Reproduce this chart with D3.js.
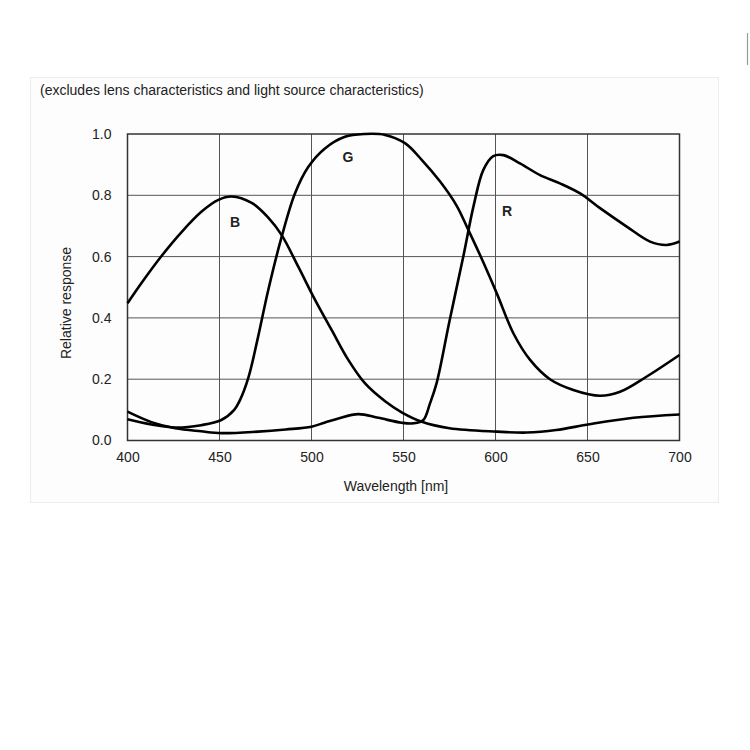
<!DOCTYPE html>
<html>
<head>
<meta charset="utf-8">
<script src="https://cdn.jsdelivr.net/npm/d3@7"></script>
<style>
  body { margin: 0; background: #fff; }
  svg { font-family: "Liberation Sans", Arial, sans-serif; }
</style>
</head>
<body>
<svg id="chart" width="750" height="750"></svg>
<script>
// Spectral response (wavelength nm, relative response)
const blueWl = [400, 407.7, 418.6, 429.5, 440.3, 449.4, 456.6, 467.5, 476.5, 483.8, 492.8, 502, 511, 520, 529, 540, 549, 560, 575, 600.7, 617, 633, 651, 675, 700];
const blueVal = [0.448, 0.515, 0.603, 0.681, 0.747, 0.785, 0.796, 0.775, 0.727, 0.67, 0.567, 0.458, 0.36, 0.263, 0.187, 0.128, 0.092, 0.061, 0.04, 0.029, 0.026, 0.034, 0.053, 0.074, 0.085];

const greenWl = [400, 413, 426, 440, 451, 458, 461, 465.7, 471, 476.5, 483.8, 491, 498.3, 507.3, 518.2, 529, 540, 550.8, 560, 570, 579, 585, 591.6, 600.7, 609.7, 618.8, 629.6, 642.3, 656.8, 667.7, 682, 700];
const greenVal = [0.069, 0.052, 0.042, 0.05, 0.067, 0.1, 0.13, 0.205, 0.339, 0.491, 0.665, 0.806, 0.893, 0.953, 0.991, 1.0, 0.997, 0.97, 0.915, 0.844, 0.765, 0.69, 0.605, 0.48, 0.35, 0.263, 0.2, 0.165, 0.146, 0.159, 0.208, 0.279];

const redWl = [400, 413, 426, 440, 451, 471, 486, 500, 507, 514.6, 525.4, 536.3, 549, 555.4, 560.8, 564.4, 568, 575, 582.5, 588, 593.4, 598.8, 604.3, 613.3, 624.2, 635, 646, 656.8, 671.3, 684, 693, 700];
const redVal = [0.094, 0.06, 0.04, 0.03, 0.024, 0.029, 0.036, 0.045, 0.058, 0.072, 0.086, 0.074, 0.058, 0.056, 0.067, 0.121, 0.187, 0.39, 0.6, 0.763, 0.883, 0.928, 0.931, 0.904, 0.866, 0.839, 0.806, 0.758, 0.698, 0.649, 0.638, 0.649];

const seriesNames = ['B', 'G', 'R'];
const labelPos = [[458.4, 0.697], [519.8, 0.909], [606.3, 0.732]];
const xTicks = [400, 450, 500, 550, 600, 650, 700];
const yTicks = [0, 0.2, 0.4, 0.6, 0.8, 1.0];

const svg = d3.select('#chart');

// panel behind the chart
svg.append('rect')
  .attr('x', 30.5).attr('y', 77.5)
  .attr('width', 688).attr('height', 425)
  .attr('fill', '#fdfdfd')
  .attr('stroke', '#ececec');

// stray mark at the top right edge
svg.append('line')
  .attr('x1', 747.5).attr('x2', 747.5)
  .attr('y1', 33).attr('y2', 65)
  .attr('stroke', '#999').attr('stroke-width', 1.2);

const x = d3.scaleLinear().domain([400, 700]).range([127.5, 679.5]);
const y = d3.scaleLinear().domain([0, 1]).range([440.5, 134]);

svg.append('text')
  .attr('x', 40).attr('y', 95)
  .attr('font-size', 14)
  .attr('fill', '#222')
  .text('(excludes lens characteristics and light source characteristics)');

// grid
const grid = svg.append('g').attr('stroke', '#555').attr('stroke-width', 1);
grid.selectAll('line.v')
  .data(xTicks.slice(1, -1))
  .join('line')
  .attr('x1', (d) => x(d)).attr('x2', (d) => x(d))
  .attr('y1', y(0)).attr('y2', y(1));
grid.selectAll('line.h')
  .data(yTicks.slice(1, -1))
  .join('line')
  .attr('x1', x(400)).attr('x2', x(700))
  .attr('y1', (d) => y(d)).attr('y2', (d) => y(d));

svg.append('rect')
  .attr('x', x(400)).attr('y', y(1))
  .attr('width', x(700) - x(400)).attr('height', y(0) - y(1))
  .attr('fill', 'none')
  .attr('stroke', '#333')
  .attr('stroke-width', 1.5);

// axes (labels only, the frame is drawn above)
const xAxis = svg.append('g')
  .attr('transform', `translate(0,${y(0)})`)
  .call(d3.axisBottom(x).tickValues(xTicks).tickSize(0).tickPadding(12));
const yAxis = svg.append('g')
  .attr('transform', `translate(${x(400)},0)`)
  .call(d3.axisLeft(y).tickValues(yTicks).tickFormat(d3.format('.1f')).tickSize(0).tickPadding(16));
[xAxis, yAxis].forEach((a) => {
  a.select('.domain').remove();
  a.selectAll('text')
    .attr('font-size', 14)
    .attr('font-family', '"Liberation Sans", Arial, sans-serif')
    .attr('fill', '#222');
});

svg.append('text')
  .attr('x', 396).attr('y', 491)
  .attr('text-anchor', 'middle')
  .attr('font-size', 14)
  .attr('fill', '#222')
  .text('Wavelength [nm]');

svg.append('text')
  .attr('transform', 'translate(71,303) rotate(-90)')
  .attr('text-anchor', 'middle')
  .attr('font-size', 14)
  .attr('fill', '#222')
  .text('Relative response');

// curves
const series = [
  blueWl.map((d, i) => [d, blueVal[i]]),
  greenWl.map((d, i) => [d, greenVal[i]]),
  redWl.map((d, i) => [d, redVal[i]]),
];
const line = d3.line()
  .x((d) => x(d[0]))
  .y((d) => y(d[1]))
  .curve(d3.curveCatmullRom.alpha(0.5));

svg.append('g')
  .selectAll('path')
  .data(series)
  .join('path')
  .attr('d', line)
  .attr('fill', 'none')
  .attr('stroke', '#000')
  .attr('stroke-width', 2.6)
  .attr('stroke-linejoin', 'round');

svg.append('g')
  .selectAll('text')
  .data(seriesNames)
  .join('text')
  .attr('x', (d, i) => x(labelPos[i][0]))
  .attr('y', (d, i) => y(labelPos[i][1]))
  .attr('text-anchor', 'middle')
  .attr('font-size', 14)
  .attr('font-weight', 'bold')
  .attr('fill', '#222')
  .text((d) => d);
</script>
</body>
</html>
